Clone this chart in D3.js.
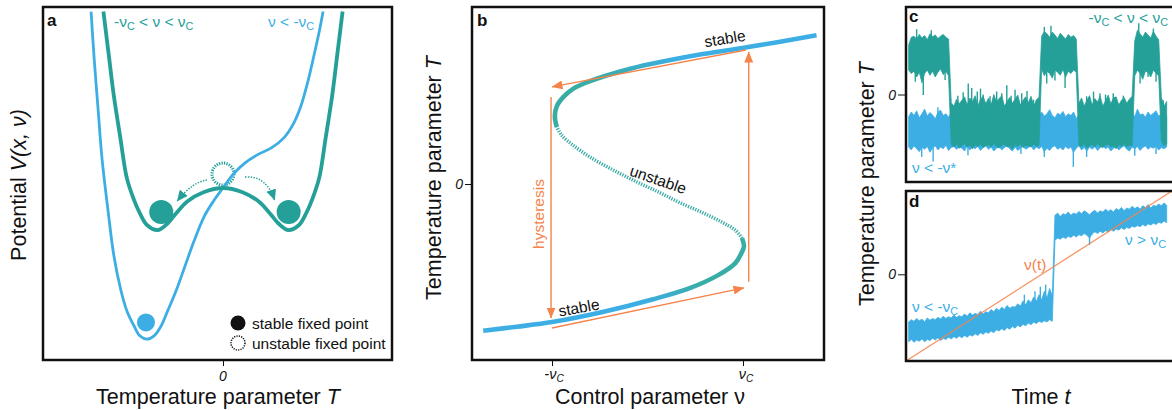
<!DOCTYPE html>
<html><head><meta charset="utf-8">
<script src="https://cdn.jsdelivr.net/npm/d3@7/dist/d3.min.js"></script>
<style>
html,body{margin:0;padding:0;background:#fff;}
svg{display:block;font-family:"Liberation Sans",Arial,Helvetica,sans-serif;}
text{white-space:pre;}
</style></head>
<body><svg id="fig" width="1172" height="410"></svg>
<script>
// ---------- colours ----------
const TEAL = "#24a098", TEAL_B = "#38ada5", BLUE = "#3caee4", ORANGE = "#f5844c", INK = "#111";

// ---------- panel a: potentials V(T) ----------
// symmetric double well, -nu_c < nu < nu_c  ([T, V])
const wellSymmetric = [
  [-1.84,1.05],[-1.76,0.80],[-1.68,0.55],[-1.58,0.30],[-1.48,0.06],[-1.38,-0.06],[-1.28,-0.15],
  [-1.17,-0.22],[-1.0,-0.25],[-0.85,-0.21],[-0.72,-0.15],[-0.55,-0.08],[-0.3,-0.025],[0,0],
  [0.3,-0.025],[0.55,-0.08],[0.72,-0.15],[0.85,-0.21],[1.0,-0.25],[1.17,-0.22],[1.28,-0.15],
  [1.38,-0.06],[1.48,0.06],[1.58,0.30],[1.68,0.55],[1.76,0.80],[1.84,1.05]
];
// tilted single well, nu < -nu_c  ([T, V])
const wellTilted = [
  [-2.03,1.05],[-1.98,0.76],[-1.92,0.46],[-1.86,0.17],[-1.77,-0.13],[-1.68,-0.40],[-1.57,-0.61],
  [-1.48,-0.73],[-1.37,-0.82],[-1.28,-0.88],[-1.17,-0.90],[-1.06,-0.88],[-0.95,-0.82],[-0.85,-0.73],
  [-0.72,-0.61],[-0.58,-0.46],[-0.45,-0.32],[-0.29,-0.17],[-0.15,-0.08],[0,0],[0.15,0.08],
  [0.34,0.15],[0.54,0.20],[0.75,0.24],[0.94,0.30],[1.08,0.38],[1.20,0.49],[1.31,0.64],
  [1.40,0.79],[1.48,0.93],[1.54,1.05]
];
// fixed points drawn as balls ([T, V])
const stableTeal = [[-0.95,-0.143],[1.01,-0.143]];
const stableBlue = [[-1.185,-0.80]];
const unstableTeal = [[0,0.083]];

// ---------- panel b: bifurcation diagram ([nu, T]) ----------
const branchLower = [
  [-1.72,-2.19],[-1.37,-2.13],[-1.0,-2.06],[-0.47,-1.91],[0.06,-1.72],[0.45,-1.55],[0.74,-1.36],
  [0.92,-1.18],[0.98,-1.04],[1.01,-0.93],[0.99,-0.81]
];
const branchUnstable = [
  [0.99,-0.81],[0.92,-0.69],[0.78,-0.57],[0.58,-0.43],[0.34,-0.28],[0.13,-0.13],[-0.11,0.03],
  [-0.36,0.21],[-0.60,0.40],[-0.78,0.58],[-0.90,0.73],[-0.95,0.85]
];
const branchUpper = [
  [-0.95,0.85],[-0.97,1.01],[-0.95,1.16],[-0.88,1.30],[-0.78,1.42],[-0.63,1.52],[-0.18,1.72],
  [0.24,1.85],[0.58,1.94],[1.04,2.04],[1.77,2.22]
];
// hysteresis loop arrows ([[nu0,T0],[nu1,T1]])
const hysteresisArrows = [
  [[1.03,2.0],[-1.0,1.45]],
  [[-1.01,1.30],[-1.01,-2.0]],
  [[-1.0,-2.15],[1.01,-1.55]],
  [[1.06,-1.46],[1.06,1.97]]
];
const bTicks = [-1, 1];

// ---------- panels c, d: simulated time series ----------
const tSamples = d3.range(1, 99);
// band envelopes of the fluctuating trajectories
const tealUpper = [
  0.85,0.98,1.0,0.95,1.03,0.97,1.01,0.94,1.04,0.99,1.02,0.96,1.0,1.03,0.98,0.95,
  -0.14,-0.2,-0.08,-0.16,-0.1,-0.04,-0.18,-0.06,-0.12,-0.02,-0.2,-0.08,-0.03,-0.16,-0.06,-0.18,
  0.0,-0.12,-0.07,-0.02,-0.2,-0.12,-0.05,-0.15,-0.08,-0.01,-0.18,-0.1,-0.04,-0.14,-0.03,-0.2,
  -0.09,-0.05,
  1.0,1.08,1.04,0.98,1.07,1.02,0.96,1.05,1.0,0.95,1.03,0.98,1.01,0.95,
  -0.15,-0.06,-0.2,-0.1,-0.02,-0.18,-0.07,-0.13,-0.03,-0.2,-0.11,-0.01,-0.16,-0.06,-0.04,-0.18,
  -0.1,-0.05,-0.15,-0.08,-0.03,
  0.92,1.1,1.04,0.98,1.07,1.02,0.97,1.08,1.0,0.94,
  -0.05,-0.2,-0.12
];
const tealLower = [
  0.42,0.36,0.4,0.3,0.38,0.2,0.36,0.42,0.33,0.4,0.3,0.38,0.44,0.34,0.4,0.32,
  -0.86,-0.9,-0.85,-0.92,-0.88,-0.84,-0.9,-0.87,-0.93,-0.86,-0.89,-0.85,-0.91,-0.88,-0.86,-0.9,
  -0.84,-0.89,-0.92,-0.87,-0.85,-0.9,-0.88,-0.94,-0.86,-0.89,-0.85,-0.91,-0.87,-0.88,-0.9,-0.85,
  -0.89,-0.87,
  0.44,0.32,0.4,0.36,0.28,0.42,0.38,0.33,0.43,0.3,0.4,0.36,0.42,0.38,
  -0.87,-0.9,-0.85,-0.92,-0.88,-0.86,-0.9,-0.84,-0.89,-0.91,-0.87,-0.85,-0.9,-0.88,-0.93,-0.86,
  -0.89,-0.85,-0.9,-0.87,-0.88,
  0.32,0.42,0.36,0.26,0.4,0.38,0.3,0.42,0.36,0.32,
  -0.8,-0.88,-0.85
];
// isolated excursions of the teal trajectory ([t, T])
const tealSpikes = [
  [3.5,0.22],[4,1.12],[6.5,-0.01],[9.5,1.1],[14.7,0.25],
  [19.5,-0.02],[21.5,0.04],[23.4,0.19],[24.7,0.11],[26.8,0.05],[28,0.1],[29,0.0],[31.6,-0.03],
  [34.1,0.05],[36,0.02],[37.9,0.16],[39.5,-0.02],[41,0.08],[43.5,0.02],[45.5,0.06],[47.9,-0.09],
  [52,1.16],[52.9,0.19],[54.5,1.18],[56,0.24],[59.8,0.11],
  [67.9,-0.03],[70.5,0.05],[72.9,0.02],[75,0.0],[77.9,0.02],[81.7,-0.02],
  [87.5,1.22],[88,0.19],[91,0.3],[93,1.13],[94,0.22],[96.7,-0.1]
];
const blueUpperC = [
  -0.38,-0.3,-0.36,-0.28,-0.4,-0.33,-0.25,-0.37,-0.31,-0.35,
  -0.42,-0.3,-0.27,-0.36,-0.33,-0.39,-0.3,-0.35,-0.28,-0.4,
  -0.34,-0.3,-0.37,-0.26,-0.35,-0.41,-0.32,-0.36,-0.29,-0.38,
  -0.33,-0.3,-0.4,-0.35,-0.27,-0.37,-0.32,-0.36,-0.3,-0.39,
  -0.34,-0.28,-0.36,-0.33,-0.4,-0.31,-0.35,-0.29,-0.38,-0.34,
  -0.3,-0.37,-0.33,-0.26,-0.36,-0.4,-0.32,-0.35,-0.29,-0.38,
  -0.33,-0.36,-0.3,-0.41,-0.35,-0.28,-0.37,-0.32,-0.35,-0.3,
  -0.39,-0.34,-0.27,-0.36,-0.31,-0.38,-0.33,-0.3,-0.4,-0.35,
  -0.29,-0.37,-0.32,-0.36,-0.3,-0.38,-0.25,-0.35,-0.33,-0.39,
  -0.3,-0.36,-0.32,-0.28,-0.37,-0.34,-0.3,-0.38
];
const blueLowerC = [
  -0.9,-0.95,-0.88,-0.93,-0.98,-0.9,-0.94,-0.89,-0.99,-0.92,
  -0.88,-0.95,-0.9,-0.93,-0.87,-0.96,-0.91,-0.89,-0.94,-0.9,
  -0.92,-0.97,-0.88,-0.95,-0.9,-0.93,-0.89,-0.96,-0.91,-0.88,
  -0.94,-0.9,-0.97,-0.92,-0.89,-0.95,-0.91,-0.88,-0.93,-0.97,
  -0.9,-0.96,-0.92,-0.89,-0.94,-0.91,-0.88,-0.95,-0.9,-0.93,
  -0.89,-0.98,-0.92,-0.96,-0.9,-0.88,-0.94,-0.91,-0.95,-0.89,
  -0.93,-0.9,-0.99,-0.92,-0.88,-0.95,-0.91,-0.97,-0.9,-0.94,
  -0.89,-0.96,-0.91,-0.88,-0.93,-0.9,-0.97,-0.92,-0.89,-0.95,
  -0.91,-0.88,-0.94,-0.97,-0.9,-0.93,-0.89,-0.96,-0.91,-0.88,
  -0.94,-0.9,-0.92,-0.89,-0.95,-0.91,-0.93,-0.9
];
const blueSpikesC = [
  [5.9,-1.07],[10.2,-1.15],[12,-0.22],[23.3,-1.04],[30,-0.24],[43.2,-1.02],[52,-1.07],
  [62.9,-1.24],[67.9,-1.07],[75,-0.2],[86,-1.05],[94,-1.02]
];
const blueUpperD = [
  -0.84,-0.8,-0.83,-0.78,-0.82,-0.79,-0.84,-0.77,-0.81,-0.78,
  -0.8,-0.76,-0.79,-0.74,-0.78,-0.75,-0.77,-0.72,-0.76,-0.73,
  -0.75,-0.7,-0.74,-0.68,-0.72,-0.69,-0.71,-0.65,-0.7,-0.66,
  -0.68,-0.62,-0.66,-0.6,-0.64,-0.58,-0.62,-0.55,-0.6,-0.57,
  -0.58,-0.52,-0.56,-0.47,-0.54,-0.45,-0.5,-0.4,-0.48,-0.36,
  -0.45,-0.3,-0.42,-0.25,-0.38,
  1.04,1.08,1.02,1.07,1.05,1.1,1.04,1.08,1.06,1.11,
  1.07,1.12,1.09,1.05,1.1,1.13,1.08,1.12,1.1,1.15,
  1.11,1.14,1.1,1.16,1.13,1.18,1.12,1.17,1.15,1.2,
  1.16,1.19,1.15,1.21,1.18,1.23,1.17,1.22,1.2,1.24,
  1.21,1.26,1.22
];
const blueLowerD = [
  -1.19,-1.15,-1.2,-1.16,-1.18,-1.14,-1.19,-1.15,-1.17,-1.13,
  -1.16,-1.12,-1.17,-1.13,-1.15,-1.11,-1.14,-1.1,-1.13,-1.09,
  -1.12,-1.08,-1.11,-1.07,-1.09,-1.05,-1.08,-1.03,-1.06,-1.02,
  -1.04,-1.0,-1.03,-0.98,-1.0,-0.96,-0.99,-0.94,-0.97,-0.92,
  -0.95,-0.9,-0.93,-0.88,-0.91,-0.86,-0.89,-0.84,-0.87,-0.83,
  -0.85,-0.82,-0.84,-0.8,-0.83,
  0.6,0.64,0.62,0.66,0.63,0.67,0.65,0.69,0.66,0.7,
  0.68,0.72,0.69,0.64,0.71,0.75,0.72,0.76,0.73,0.77,
  0.75,0.79,0.76,0.8,0.78,0.82,0.79,0.83,0.81,0.85,
  0.83,0.86,0.84,0.88,0.85,0.89,0.87,0.9,0.88,0.92,
  0.9,0.94,0.91
];
const blueSpikesD = [[44.5,-0.36],[48.5,-0.3],[50.5,-0.22],[52.5,-0.18],[69,0.52]];
// slowly ramped control parameter nu(t)
const rampTime = [0, 100];
const rampNu = [-1.53, 1.47];

// ---------- layout ----------
const svg = d3.select("#fig");
const defs = svg.append("defs");
const boxA = {x:43, y:7, w:349, h:353};
const boxB = {x:472, y:7, w:352, h:353};
const boxC = {x:906, y:7, w:270, h:175};
const boxD = {x:906, y:191, w:270, h:170};

function clip(id, b){
  defs.append("clipPath").attr("id", id).append("rect")
    .attr("x", b.x).attr("y", b.y).attr("width", b.w).attr("height", b.h);
}
clip("clipA", boxA); clip("clipB", boxB); clip("clipC", boxC); clip("clipD", boxD);

function marker(id, color, w, h){
  defs.append("marker").attr("id", id).attr("viewBox", `0 0 ${w} ${h}`)
    .attr("refX", w - 0.5).attr("refY", h/2).attr("markerWidth", w).attr("markerHeight", h)
    .attr("markerUnits", "userSpaceOnUse").attr("orient", "auto")
    .append("path").attr("d", `M0,0L${w},${h/2}L0,${h}Z`).attr("fill", color);
}
marker("arrOrange", ORANGE, 11, 9);
marker("arrTeal", TEAL, 11, 10);

function frame(b){
  svg.append("rect").attr("x", b.x).attr("y", b.y).attr("width", b.w).attr("height", b.h)
    .attr("fill", "none").attr("stroke", INK).attr("stroke-width", 2.5);
}
function panelLetter(s, x, y){
  svg.append("text").attr("x", x).attr("y", y).attr("font-size", 17).attr("font-weight", "bold")
    .attr("fill", INK).text(s);
}
// text with subscripted parts: segs = [[string, isSub], ...]
function rich(parent, x, y, segs, size, color, anchor){
  const t = parent.append("text").attr("x", x).attr("y", y).attr("font-size", size)
    .attr("fill", color).attr("text-anchor", anchor || "start");
  let down = false;
  segs.forEach(([s, sub]) => {
    const ts = t.append("tspan").text(s);
    if (sub) { ts.attr("font-size", size * 0.7); if (!down) { ts.attr("dy", size * 0.22); down = true; } }
    else if (down) { ts.attr("dy", -size * 0.22); down = false; }
  });
  return t;
}
function title(x, y, parts, rotate){
  const g = svg.append("g").attr("transform", `translate(${x},${y})` + (rotate ? " rotate(-90)" : ""));
  const t = g.append("text").attr("text-anchor", "middle").attr("font-size", 21.5).attr("fill", INK);
  parts.forEach(([s, it]) => t.append("tspan").text(s).attr("font-style", it ? "italic" : "normal"));
  return t;
}
const ANNO = 15.5;

// =============== panel a ===============
const xA = d3.scaleLinear().domain([-1, 1]).range([158, 288]);
const yA = d3.scaleLinear().domain([0, -0.25]).range([188, 230]);
const gA = svg.append("g").attr("clip-path", "url(#clipA)");
const lineA = d3.line().x(d => xA(d[0])).y(d => yA(d[1])).curve(d3.curveCatmullRom.alpha(0.5));

// unstable fixed point (behind the curves)
gA.selectAll("circle.unst").data(unstableTeal).join("circle")
  .attr("cx", d => xA(d[0])).attr("cy", d => yA(d[1])).attr("r", 11)
  .attr("fill", "#fff").attr("stroke", TEAL).attr("stroke-width", 3).attr("stroke-dasharray", "1.3,1.2");

gA.append("path").datum(wellTilted).attr("d", lineA).attr("fill", "none")
  .attr("stroke", BLUE).attr("stroke-width", 2.8);
gA.append("path").datum(wellSymmetric).attr("d", lineA).attr("fill", "none")
  .attr("stroke", TEAL).attr("stroke-width", 3.8);

gA.selectAll("circle.st").data(stableTeal).join("circle")
  .attr("cx", d => xA(d[0])).attr("cy", d => yA(d[1])).attr("r", 12).attr("fill", TEAL);
gA.selectAll("circle.sb").data(stableBlue).join("circle")
  .attr("cx", d => xA(d[0])).attr("cy", d => yA(d[1])).attr("r", 9).attr("fill", BLUE);

// dotted arrows rolling off the unstable point
{
  const u = unstableTeal[0];
  const ux = xA(u[0]), uy = yA(u[1]);
  const L = stableTeal[0], R = stableTeal[1];
  const lx = xA(L[0]), ly = yA(L[1]), rx = xA(R[0]), ry = yA(R[1]);
  const arrows = [
    `M${ux-16},${uy+6} Q${ux-31},${uy+8} ${lx+16},${ly-11}`,
    `M${ux+22},${uy+3} Q${ux+43},${uy+1} ${rx-14},${ry-12}`
  ];
  gA.selectAll("path.roll").data(arrows).join("path").attr("d", d => d)
    .attr("fill", "none").attr("stroke", TEAL).attr("stroke-width", 1.5)
    .attr("stroke-dasharray", "1.4,1.4").attr("marker-end", "url(#arrTeal)");
}

// legend
svg.append("circle").attr("cx", 238).attr("cy", 323).attr("r", 7.5).attr("fill", INK);
svg.append("circle").attr("cx", 238).attr("cy", 343).attr("r", 7).attr("fill", "#fff")
  .attr("stroke", INK).attr("stroke-width", 1.5).attr("stroke-dasharray", "1.2,1.2");
svg.append("text").attr("x", 252).attr("y", 328.5).attr("font-size", ANNO).attr("fill", INK).text("stable fixed point");
svg.append("text").attr("x", 252).attr("y", 348.5).attr("font-size", ANNO).attr("fill", INK).text("unstable fixed point");

rich(svg, 114, 27, [["-ν",0],["C",1],[" < ν < ν",0],["C",1]], ANNO, TEAL);
rich(svg, 268, 27, [["ν < -ν",0],["C",1]], ANNO, BLUE);

svg.append("g").attr("transform", `translate(0,${boxA.y + boxA.h})`)
  .call(d3.axisBottom(xA).tickValues([0]).tickSize(6).tickFormat(""))
  .call(g => { g.select(".domain").remove(); g.selectAll("line").attr("stroke", INK); });
svg.append("text").attr("x", xA(0)).attr("y", 381).attr("text-anchor", "middle")
  .attr("font-size", 14).attr("font-style", "italic").attr("fill", INK).text("0");

frame(boxA);
panelLetter("a", 47, 26);
title(218, 404, [["Temperature parameter ",0],["T",1]]);
title(18, 185, [["Potential ",0],["V(x, ν)",1]], true).attr("y", 8);

// =============== panel b ===============
const xB = d3.scaleLinear().domain([-1, 1]).range([552, 743]);
const yB = d3.scaleLinear().domain([-1, 1]).range([251, 117]);
const gB = svg.append("g").attr("clip-path", "url(#clipB)");
const lineB = d3.line().x(d => xB(d[0])).y(d => yB(d[1])).curve(d3.curveCatmullRom.alpha(0.5));

const grad = defs.append("linearGradient").attr("id", "branchGrad")
  .attr("gradientUnits", "userSpaceOnUse").attr("x1", 0).attr("x2", 0).attr("y1", 7).attr("y2", 360);
[[0, BLUE],[(58-7)/353, BLUE],[(76-7)/353, TEAL_B],[(284-7)/353, TEAL_B],[(302-7)/353, BLUE],[1, BLUE]]
  .forEach(([o, c]) => grad.append("stop").attr("offset", o).attr("stop-color", c));

gB.append("path").datum(branchUnstable).attr("d", lineB).attr("fill", "none")
  .attr("stroke", TEAL_B).attr("stroke-width", 3.5).attr("stroke-dasharray", "1.3,1.3");
gB.selectAll("path.stable").data([branchLower, branchUpper]).join("path")
  .attr("d", lineB).attr("fill", "none").attr("stroke", "url(#branchGrad)")
  .attr("stroke-width", 4.6).attr("stroke-linecap", "butt");

gB.selectAll("line.hyst").data(hysteresisArrows).join("line")
  .attr("x1", d => xB(d[0][0])).attr("y1", d => yB(d[0][1]))
  .attr("x2", d => xB(d[1][0])).attr("y2", d => yB(d[1][1]))
  .attr("stroke", ORANGE).attr("stroke-width", 1.4).attr("marker-end", "url(#arrOrange)");

svg.append("g").attr("transform", "translate(539,214) rotate(-90)")
  .append("text").attr("y", 5).attr("text-anchor", "middle").attr("font-size", ANNO)
  .attr("fill", ORANGE).text("hysteresis");
[[725, 39, -9, "stable"], [579, 308, -10, "stable"], [658, 180, 19, "unstable"]].forEach(([x, y, r, s]) => {
  svg.append("g").attr("transform", `translate(${x},${y}) rotate(${r})`)
    .append("text").attr("y", 5).attr("text-anchor", "middle").attr("font-size", ANNO)
    .attr("fill", INK).text(s);
});

svg.append("g").attr("transform", `translate(0,${boxB.y + boxB.h})`)
  .call(d3.axisBottom(xB).tickValues(bTicks).tickSize(6).tickFormat(""))
  .call(g => { g.select(".domain").remove(); g.selectAll("line").attr("stroke", INK); });
bTicks.forEach(v => {
  rich(svg, xB(v) + (v < 0 ? 2 : 3), 379, [[v < 0 ? "-ν" : "ν", 0], ["C", 1]], 14.5, INK, "middle")
    .attr("font-style", "italic");
});
svg.append("g").attr("transform", `translate(${boxB.x},0)`)
  .call(d3.axisLeft(yB).tickValues([0]).tickSize(7).tickFormat(""))
  .call(g => { g.select(".domain").remove(); g.selectAll("line").attr("stroke", INK); });
svg.append("text").attr("x", 463).attr("y", yB(0) + 5).attr("text-anchor", "end")
  .attr("font-size", 14).attr("font-style", "italic").attr("fill", INK).text("0");

frame(boxB);
panelLetter("b", 477, 26);
title(650, 404, [["Control parameter ν",0]]);
title(434, 178, [["Temperature parameter ",0],["T",1]], true).attr("y", 7);

// =============== panels c, d ===============
const xT = d3.scaleLinear().domain([0, 100]).range([906, 1172]);
const yC = d3.scaleLinear().domain([-1.5, 1.5]).range([182, 7]);
const yD = d3.scaleLinear().domain([-1.53, 1.47]).range([361, 191]);

function band(g, y, lo, hi, color){
  const area = d3.area().x((d, i) => xT(tSamples[i])).y0((d, i) => y(lo[i])).y1((d, i) => y(hi[i]));
  g.append("path").datum(tSamples).attr("d", area).attr("fill", color)
    .attr("stroke", color).attr("stroke-width", 0.8).attr("stroke-linejoin", "round");
}
// hairline excursions, each drawn from the band centre at that time
function spikes(g, y, lo, hi, list, color){
  g.selectAll(null).data(list).join("line")
    .attr("x1", d => xT(d[0])).attr("x2", d => xT(d[0]))
    .attr("y1", d => {
      const i = Math.max(0, Math.min(tSamples.length - 1, Math.round(d[0]) - 1));
      return y((lo[i] + hi[i]) / 2);
    })
    .attr("y2", d => y(d[1]))
    .attr("stroke", color).attr("stroke-width", 1.4);
}

const gC = svg.append("g").attr("clip-path", "url(#clipC)");
band(gC, yC, blueLowerC, blueUpperC, BLUE);
spikes(gC, yC, blueLowerC, blueUpperC, blueSpikesC, BLUE);
band(gC, yC, tealLower, tealUpper, TEAL);
spikes(gC, yC, tealLower, tealUpper, tealSpikes, TEAL);
rich(svg, 1168, 23, [["-ν",0],["C",1],[" < ν < ν",0],["C",1]], ANNO, TEAL, "end");
rich(svg, 912, 173, [["ν < -ν*",0]], ANNO, BLUE);

const gD = svg.append("g").attr("clip-path", "url(#clipD)");
band(gD, yD, blueLowerD, blueUpperD, BLUE);
spikes(gD, yD, blueLowerD, blueUpperD, blueSpikesD, BLUE);
gD.append("path").datum(rampTime.map((t, i) => [t, rampNu[i]]))
  .attr("d", d3.line().x(d => xT(d[0])).y(d => yD(d[1])))
  .attr("stroke", ORANGE).attr("stroke-width", 1.3).attr("stroke-opacity", 0.85).attr("fill", "none");
rich(svg, 1024, 270, [["ν(t)",0]], ANNO, ORANGE);
rich(svg, 912, 312, [["ν < -ν",0],["C",1]], ANNO, BLUE);
rich(svg, 1125, 245, [["ν > ν",0],["C",1]], ANNO, BLUE);

[[yC, boxC], [yD, boxD]].forEach(([y, b]) => {
  svg.append("g").attr("transform", `translate(${b.x},0)`)
    .call(d3.axisLeft(y).tickValues([0]).tickSize(8).tickFormat(""))
    .call(g => { g.select(".domain").remove(); g.selectAll("line").attr("stroke", INK); });
  svg.append("text").attr("x", 896).attr("y", y(0) + 5).attr("text-anchor", "end")
    .attr("font-size", 14).attr("font-style", "italic").attr("fill", INK).text("0");
});

frame(boxC); frame(boxD);
panelLetter("c", 909, 22);
panelLetter("d", 909, 207);
title(1041, 404, [["Time ",0],["t",1]]);
title(867, 184, [["Temperature parameter ",0],["T",1]], true).attr("y", 7);
</script>
</body></html>
